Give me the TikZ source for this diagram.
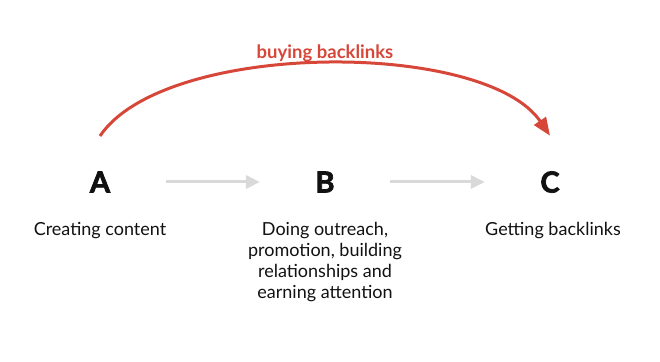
\documentclass[tikz,border=0pt]{standalone}
\usepackage{fontspec}
\setmainfont{Lato}
\newfontfamily\heavyfont[BoldFeatures={FakeBold=2.5}]{Lato}
\usetikzlibrary{arrows.meta, positioning}
\definecolor{buyred}{HTML}{D6473A}
\definecolor{flowgray}{HTML}{D9D9D9}
\definecolor{darktext}{HTML}{111111}

\begin{document}
\begin{tikzpicture}[
  x=1pt, y=1pt,
  every node/.style={text=darktext},
  stage/.style={font=\fontsize{29}{30}\selectfont\heavyfont\bfseries},
  desc/.style={font=\fontsize{18}{21}\selectfont, align=center, anchor=north},
  flow/.style={-{Triangle[length=14pt, width=13pt]}, line width=3pt, color=flowgray,
               shorten <=52pt, shorten >=52pt},
  buy/.style={-{Triangle[length=18pt, width=14pt]}, line width=3pt, color=buyred},
]
  \useasboundingbox (0,0) rectangle (660,361);

  % Stages
  \node[stage] (A) at (100,179) {A};
  \node[stage] (B) at (325,179) {B};
  \node[stage] (C) at (550,179) {C};

  % What happens at each stage
  \node[desc] (Adesc) at (100,142) {Creating content};
  \node[desc] (Bdesc) at (325,142)
    {Doing outreach,\\promotion, building\\relationships and\\earning attention};
  \node[desc] (Cdesc) at (553,142) {Getting backlinks};

  % Normal route
  \draw[flow] (A) -- (B);
  \draw[flow] (B) -- (C);

  % Shortcut
  \draw[buy] ([yshift=32pt]A.north) .. controls +(65,96) and +(-65,96) .. ([yshift=32pt]C.north)
    node[pos=0.5, above=-3pt, text=buyred, font=\fontsize{18.5}{20}\selectfont\bfseries] (buylabel)
    {buying backlinks};
\end{tikzpicture}
\end{document}
